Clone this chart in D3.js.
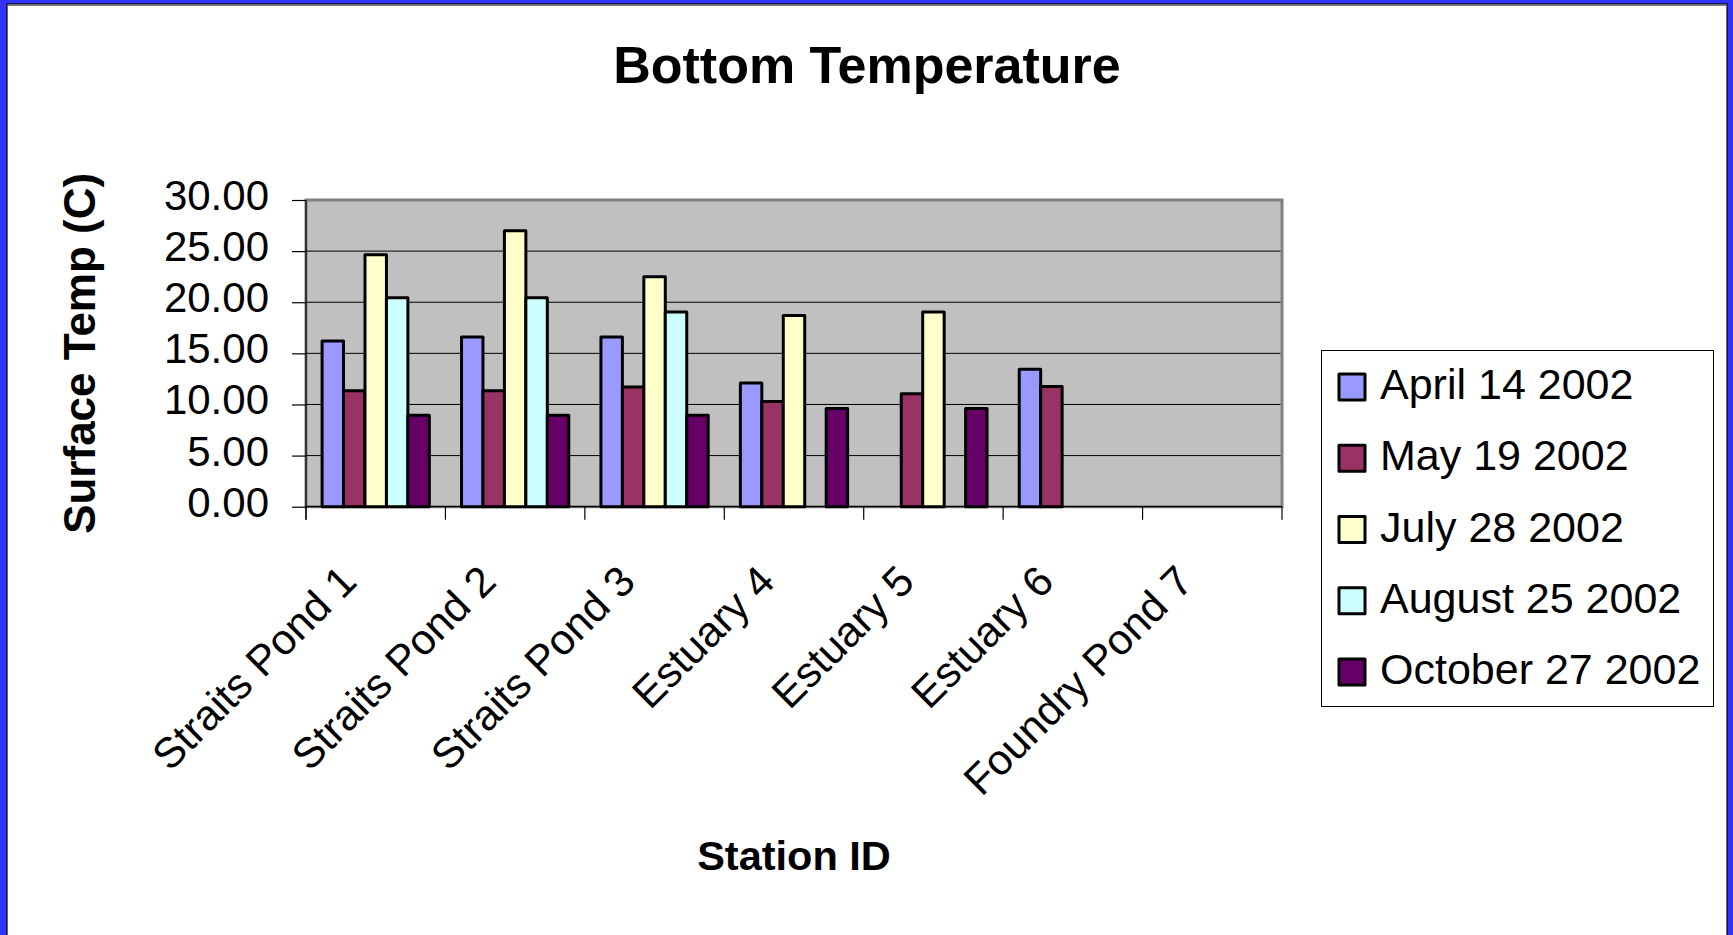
<!DOCTYPE html>
<html>
<head>
<meta charset="utf-8">
<script src="https://cdn.jsdelivr.net/npm/d3@7"></script>
<style>
  html, body { margin: 0; padding: 0; background: #3333ff; overflow: hidden; }
  svg { display: block; }
  text { font-family: "Liberation Sans", Arial, Helvetica, sans-serif; }
</style>
</head>
<body>
<svg id="chart" width="1733" height="935"></svg>
<script>
// ---- data ----
const categories = ["Straits Pond 1", "Straits Pond 2", "Straits Pond 3", "Estuary 4", "Estuary 5", "Estuary 6", "Foundry Pond 7"];
const seriesNames = ["April 14 2002", "May 19 2002", "July 28 2002", "August 25 2002", "October 27 2002"];
const april14 = [16.2, 16.6, 16.6, 12.1, null, 13.45, null];
const may19 = [11.35, 11.35, 11.7, 10.3, 11.05, 11.75, null];
const july28 = [24.65, 27.0, 22.5, 18.7, 19.05, null, null];
const august25 = [20.45, 20.45, 19.05, null, null, null, null];
const october27 = [8.95, 8.95, 8.95, 9.6, 9.6, null, null];
const seriesColors = ["#9999ff", "#993366", "#ffffcc", "#ccffff", "#660066"];
const yTicks = [0, 5, 10, 15, 20, 25, 30];

const seriesValues = [april14, may19, july28, august25, october27];

const svg = d3.select("#chart");

// frame
svg.append("rect").attr("x", 7).attr("y", 4).attr("width", 1720).attr("height", 940)
  .attr("fill", "#ffffff").attr("stroke", "#000000").attr("stroke-width", 1.2);
svg.append("line").attr("x1", 8).attr("x2", 1727).attr("y1", 5.5).attr("y2", 5.5)
  .attr("stroke", "#808080").attr("stroke-width", 1);

const plot = { left: 306, right: 1282, top: 200, bottom: 506.7 };

const x = d3.scaleBand().domain(categories).range([plot.left, plot.right]).paddingInner(0).paddingOuter(0);
const xs = d3.scaleBand().domain(seriesNames).range([0, x.bandwidth()]).paddingInner(0).paddingOuter(0.75);
const y = d3.scaleLinear().domain([0, 30]).range([plot.bottom, plot.top]);

// plot area
svg.append("rect")
  .attr("x", plot.left).attr("y", plot.top)
  .attr("width", plot.right - plot.left).attr("height", plot.bottom - plot.top)
  .attr("fill", "#c0c0c0").attr("stroke", "#808080").attr("stroke-width", 3);

// gridlines
svg.append("g").selectAll("line").data(yTicks.filter(d => d > 0 && d < 30)).join("line")
  .attr("x1", plot.left).attr("x2", plot.right - 1.5)
  .attr("y1", d => y(d)).attr("y2", d => y(d))
  .attr("stroke", "#000000").attr("stroke-width", 1);

// bars
const barData = [];
seriesValues.forEach((vals, si) => {
  vals.forEach((v, ci) => {
    if (v !== null) barData.push({ s: seriesNames[si], c: categories[ci], v: v, color: seriesColors[si] });
  });
});
svg.append("g").selectAll("rect").data(barData).join("rect")
  .attr("x", d => x(d.c) + xs(d.s))
  .attr("y", d => y(d.v))
  .attr("width", xs.bandwidth())
  .attr("height", d => y(0) - y(d.v))
  .attr("fill", d => d.color)
  .attr("stroke", "#000000").attr("stroke-width", 3)
  .attr("stroke-linejoin", "round");

// y axis
const yAxis = d3.axisLeft(y).tickValues(yTicks).tickSize(14).tickPadding(23)
  .tickFormat(d3.format(".2f"));
const gy = svg.append("g").attr("transform", `translate(${plot.left},0)`).call(yAxis);
gy.select(".domain").attr("stroke", "#000").attr("stroke-width", 1.2).attr("d", `M0,${plot.top}V${plot.bottom + 13}`);
gy.selectAll(".tick line").attr("stroke", "#000").attr("stroke-width", 1.2);
gy.selectAll(".tick text")
  .attr("font-size", 42).attr("fill", "#000").attr("dy", "0.32em")
  .attr("y", -4)
  .style("font-family", '"Liberation Sans", Arial, sans-serif');

// x axis baseline + ticks at category boundaries
svg.append("line").attr("x1", plot.left).attr("x2", plot.right)
  .attr("y1", plot.bottom).attr("y2", plot.bottom)
  .attr("stroke", "#000").attr("stroke-width", 1.2);
const boundaries = categories.map(c => x(c)).concat([x(categories[categories.length - 1]) + x.bandwidth()]);
svg.append("g").selectAll("line").data(boundaries).join("line")
  .attr("x1", d => d).attr("x2", d => d)
  .attr("y1", plot.bottom).attr("y2", plot.bottom + 13)
  .attr("stroke", "#000").attr("stroke-width", 1.2);

// x labels, rotated
svg.append("g").selectAll("text").data(categories).join("text")
  .attr("transform", d => `translate(${x(d) + x.bandwidth() / 2 - 17},${plot.bottom + 77}) rotate(-45)`)
  .attr("text-anchor", "end")
  .attr("font-size", 42.5)
  .attr("fill", "#000")
  .text(d => d);

// title
svg.append("text").attr("x", 867).attr("y", 83).attr("text-anchor", "middle")
  .attr("font-size", 52).attr("font-weight", "bold").attr("fill", "#000")
  .text("Bottom Temperature");

// axis titles
svg.append("text").attr("x", (plot.left + plot.right) / 2).attr("y", 870).attr("text-anchor", "middle")
  .attr("font-size", 41.5).attr("font-weight", "bold").attr("fill", "#000")
  .text("Station ID");
svg.append("text").attr("transform", `translate(95,${(plot.top + plot.bottom) / 2}) rotate(-90)`)
  .attr("text-anchor", "middle")
  .attr("font-size", 44).attr("font-weight", "bold").attr("fill", "#000")
  .text("Surface Temp (C)");

// legend
const lg = svg.append("g");
lg.append("rect").attr("x", 1321.5).attr("y", 350.5).attr("width", 392).attr("height", 356)
  .attr("fill", "#ffffff").attr("stroke", "#000").attr("stroke-width", 1);
const rowY = d3.scalePoint().domain(seriesNames).range([387, 672]);
const items = lg.selectAll("g.item").data(seriesNames).join("g").attr("class", "item");
items.append("rect")
  .attr("x", 1339).attr("y", d => rowY(d) - 13)
  .attr("width", 26).attr("height", 26)
  .attr("fill", (d, i) => seriesColors[i])
  .attr("stroke", "#000").attr("stroke-width", 3).attr("stroke-linejoin", "round");
items.append("text")
  .attr("x", 1380).attr("y", d => rowY(d) + 12)
  .attr("font-size", 43).attr("fill", "#000")
  .text(d => d);
</script>
</body>
</html>
